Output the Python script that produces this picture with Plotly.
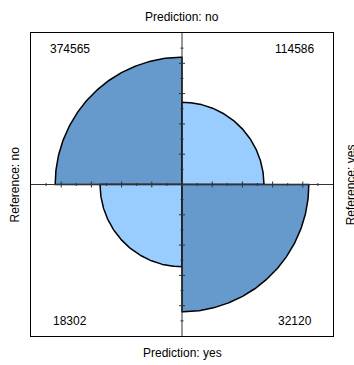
import numpy as np
import plotly.graph_objects as go

# 2x2 confusion table: rows = Reference (no, yes), cols = Prediction (no, yes)
reference_levels = ["no", "yes"]
prediction_levels = ["no", "yes"]
counts_ref_no = [374565, 114586]   # Prediction: no, Prediction: yes
counts_ref_yes = [18302, 32120]    # Prediction: no, Prediction: yes

DARK = "#6699CC"
LIGHT = "#99CCFF"
FONT = "Liberation Sans, Arial, sans-serif"

# Standardise so that all row and column margins are equal while keeping the odds ratio
a, b = counts_ref_no
c, d = counts_ref_yes
odds_ratio = (a * d) / (b * c)
s = np.sqrt(odds_ratio)
p_diag = s / (1 + s)
p_off = 1 - p_diag
std_table = [[p_diag, p_off], [p_off, p_diag]]

fig = go.Figure()

# quadrant layout: (row, col) -> angle range (degrees), fill colour
quadrants = [
    ((0, 0), (90, 180), DARK),     # top-left
    ((0, 1), (0, 90), LIGHT),      # top-right
    ((1, 0), (180, 270), LIGHT),   # bottom-left
    ((1, 1), (270, 360), DARK),    # bottom-right
]
for (i, j), (t0, t1), col in quadrants:
    r = np.sqrt(std_table[i][j])
    t = np.radians(np.linspace(t0, t1, 120))
    xs = np.concatenate([[0], r * np.cos(t), [0]])
    ys = np.concatenate([[0], r * np.sin(t), [0]])
    fig.add_trace(go.Scatter(x=xs, y=ys, mode="lines", fill="toself",
                             fillcolor=col, line=dict(color="black", width=1.5),
                             hoverinfo="skip", showlegend=False))

# centre axes with ticks
ax_col = "#333333"
fig.add_trace(go.Scatter(x=[-1, 1], y=[0, 0], mode="lines",
                         line=dict(color=ax_col, width=1), hoverinfo="skip", showlegend=False))
fig.add_trace(go.Scatter(x=[0, 0], y=[-1, 1], mode="lines",
                         line=dict(color=ax_col, width=1), hoverinfo="skip", showlegend=False))
tx, ty = [], []
for k in np.arange(-0.8, 0.81, 0.2):
    tx += [k, k, None, -0.02, 0.02, None]
    ty += [-0.02, 0.02, None, k, k, None]
for k in np.arange(-0.9, 0.91, 0.2):
    tx += [k, k, None, -0.01, 0.01, None]
    ty += [-0.01, 0.01, None, k, k, None]
fig.add_trace(go.Scatter(x=tx, y=ty, mode="lines",
                         line=dict(color=ax_col, width=1), hoverinfo="skip", showlegend=False))

annotations = []
cell_pos = [((0, 0), -0.745, 0.895), ((0, 1), 0.745, 0.895),
            ((1, 0), -0.745, -0.9), ((1, 1), 0.745, -0.9)]
table = [counts_ref_no, counts_ref_yes]
for (i, j), x, y in cell_pos:
    annotations.append(dict(x=x, y=y, xref="x", yref="y", text=str(table[i][j]),
                            showarrow=False, font=dict(size=12, color="black", family=FONT)))

lab_font = dict(size=12, color="black", family=FONT)
common = dict(xref="paper", yref="paper", showarrow=False, font=lab_font,
              xanchor="center", yanchor="middle")
annotations += [
    dict(x=0.5, y=1.053, text=f"Prediction: {prediction_levels[0]}", **common),
    dict(x=0.5, y=-0.056, text=f"Prediction: {prediction_levels[1]}", **common),
    dict(x=-0.053, y=0.5, text=f"Reference: {reference_levels[0]}", textangle=-90, **common),
    dict(x=1.059, y=0.5, text=f"Reference: {reference_levels[1]}", textangle=-90, **common),
]

axis_common = dict(range=[-1, 1], showgrid=False, zeroline=False, showticklabels=False,
                   ticks="", showline=True, linecolor="black", linewidth=1, mirror=True)
fig.update_layout(
    width=354, height=365,
    margin=dict(l=31, r=21, t=33, b=29),
    paper_bgcolor="white", plot_bgcolor="white",
    xaxis=axis_common, yaxis=axis_common,
    annotations=annotations,
    showlegend=False,
)

fig.write_html("out.html")
